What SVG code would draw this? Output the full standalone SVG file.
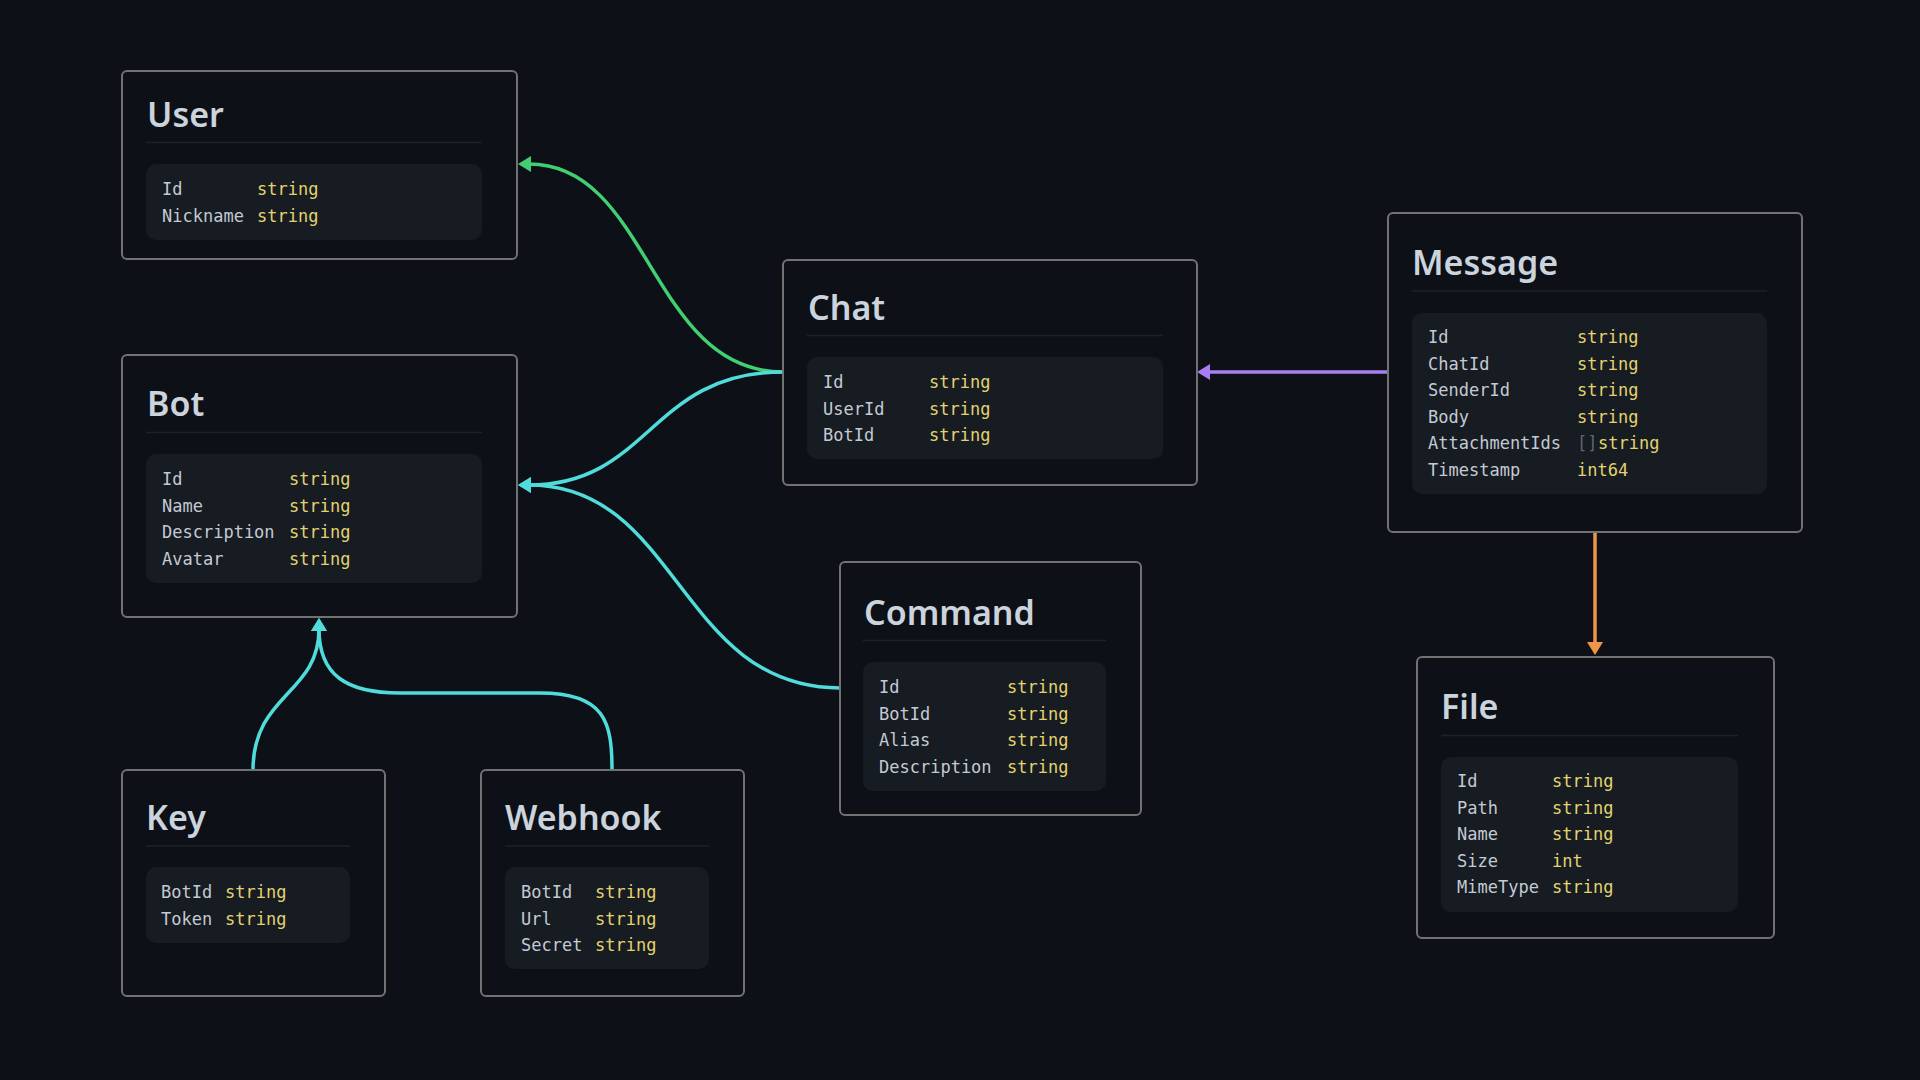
<svg xmlns="http://www.w3.org/2000/svg" width="1920" height="1080" viewBox="0 0 1920 1080">
<style>
.box{fill:#0d1017;stroke:#727272;stroke-width:2}
.fields{fill:#171b22}
.div{stroke:#1d2129;stroke-width:1.5}
.title{font-family:"Noto Sans","Liberation Sans",sans-serif;font-weight:600;font-size:34px;fill:#cbd3dc}
.n{font-family:"DejaVu Sans Mono","Liberation Mono",monospace;font-size:17px;fill:#c3cad3}
.t{font-family:"DejaVu Sans Mono","Liberation Mono",monospace;font-size:17px;fill:#e2d36f}
.br{font-family:"DejaVu Sans Mono","Liberation Mono",monospace;font-size:17px;fill:#5f6672}
.edge{fill:none;stroke-width:3.5}
</style>
<defs>
<marker id="ag" markerUnits="userSpaceOnUse" markerWidth="20" markerHeight="20" refX="2" refY="8" orient="auto" overflow="visible"><path d="M0,0 L13,8 L0,16 z" fill="#41cf72"/></marker>
<marker id="ac" markerUnits="userSpaceOnUse" markerWidth="20" markerHeight="20" refX="2" refY="8" orient="auto" overflow="visible"><path d="M0,0 L13,8 L0,16 z" fill="#4fdcda"/></marker>
<marker id="ap" markerUnits="userSpaceOnUse" markerWidth="20" markerHeight="20" refX="2" refY="8" orient="auto" overflow="visible"><path d="M0,0 L13,8 L0,16 z" fill="#a77ff3"/></marker>
<marker id="ao" markerUnits="userSpaceOnUse" markerWidth="20" markerHeight="20" refX="2" refY="8" orient="auto" overflow="visible"><path d="M0,0 L13,8 L0,16 z" fill="#ef9548"/></marker>
</defs>
<rect width="1920" height="1080" fill="#0d1017"/>
<g id="connectors">
<path class="edge" stroke="#41cf72" d="M783,372 C650,372 650,164 529,164" marker-end="url(#ag)"/>
<path class="edge" stroke="#4fdcda" d="M783,372 C650,372 650,485 529,485" marker-end="url(#ac)"/>
<path class="edge" stroke="#4fdcda" d="M840,688 C679,688 679,485 529,485" marker-end="url(#ac)"/>
<path class="edge" stroke="#4fdcda" d="M253,770 C253,694 319,694 319,629" marker-end="url(#ac)"/>
<path class="edge" stroke="#4fdcda" d="M612,770 C612,722 605,693 540,693 L400,693 C346,693 319,675 319,629" marker-end="url(#ac)"/>
<path class="edge" stroke="#a77ff3" d="M1388,372 L1208,372" marker-end="url(#ap)"/>
<path class="edge" stroke="#ef9548" d="M1595,533 L1595,644" marker-end="url(#ao)"/>
</g>
<g id="User">
<rect class="box" x="122" y="71" width="395" height="188" rx="5"/>
<text class="title" x="147" y="127">User</text>
<line class="div" x1="146" y1="142.5" x2="482" y2="142.5"/>
<rect class="fields" x="146" y="164" width="336" height="76" rx="10"/>
<text class="n" x="162" y="195">Id</text><text class="t" x="257" y="195">string</text>
<text class="n" x="162" y="222">Nickname</text><text class="t" x="257" y="222">string</text>
</g>
<g id="Bot">
<rect class="box" x="122" y="355" width="395" height="262" rx="5"/>
<text class="title" x="147" y="416">Bot</text>
<line class="div" x1="146" y1="432.5" x2="482" y2="432.5"/>
<rect class="fields" x="146" y="454" width="336" height="129" rx="10"/>
<text class="n" x="162" y="485">Id</text><text class="t" x="289" y="485">string</text>
<text class="n" x="162" y="511.6">Name</text><text class="t" x="289" y="511.6">string</text>
<text class="n" x="162" y="538.2">Description</text><text class="t" x="289" y="538.2">string</text>
<text class="n" x="162" y="564.8">Avatar</text><text class="t" x="289" y="564.8">string</text>
</g>
<g id="Chat">
<rect class="box" x="783" y="260" width="414" height="225" rx="5"/>
<text class="title" x="808" y="320">Chat</text>
<line class="div" x1="807" y1="335.5" x2="1163" y2="335.5"/>
<rect class="fields" x="807" y="357" width="356" height="102" rx="10"/>
<text class="n" x="823" y="388">Id</text><text class="t" x="929" y="388">string</text>
<text class="n" x="823" y="414.6">UserId</text><text class="t" x="929" y="414.6">string</text>
<text class="n" x="823" y="441.2">BotId</text><text class="t" x="929" y="441.2">string</text>
</g>
<g id="Message">
<rect class="box" x="1388" y="213" width="414" height="319" rx="5"/>
<text class="title" x="1412" y="275">Message</text>
<line class="div" x1="1412" y1="291" x2="1767" y2="291"/>
<rect class="fields" x="1412" y="313" width="355" height="181" rx="10"/>
<text class="n" x="1428" y="343">Id</text><text class="t" x="1577" y="343">string</text>
<text class="n" x="1428" y="369.6">ChatId</text><text class="t" x="1577" y="369.6">string</text>
<text class="n" x="1428" y="396.2">SenderId</text><text class="t" x="1577" y="396.2">string</text>
<text class="n" x="1428" y="422.8">Body</text><text class="t" x="1577" y="422.8">string</text>
<text class="n" x="1428" y="449.4">AttachmentIds</text><text class="br" x="1577" y="449.4">[]</text><text class="t" x="1598" y="449.4">string</text>
<text class="n" x="1428" y="476">Timestamp</text><text class="t" x="1577" y="476">int64</text>
</g>
<g id="Command">
<rect class="box" x="840" y="562" width="301" height="253" rx="5"/>
<text class="title" x="864" y="625">Command</text>
<line class="div" x1="863" y1="640.5" x2="1106" y2="640.5"/>
<rect class="fields" x="863" y="662" width="243" height="129" rx="10"/>
<text class="n" x="879" y="693">Id</text><text class="t" x="1007" y="693">string</text>
<text class="n" x="879" y="719.6">BotId</text><text class="t" x="1007" y="719.6">string</text>
<text class="n" x="879" y="746.2">Alias</text><text class="t" x="1007" y="746.2">string</text>
<text class="n" x="879" y="772.8">Description</text><text class="t" x="1007" y="772.8">string</text>
</g>
<g id="File">
<rect class="box" x="1417" y="657" width="357" height="281" rx="5"/>
<text class="title" x="1441" y="719">File</text>
<line class="div" x1="1441" y1="735.5" x2="1738" y2="735.5"/>
<rect class="fields" x="1441" y="757" width="297" height="155" rx="10"/>
<text class="n" x="1457" y="787">Id</text><text class="t" x="1552" y="787">string</text>
<text class="n" x="1457" y="813.6">Path</text><text class="t" x="1552" y="813.6">string</text>
<text class="n" x="1457" y="840.2">Name</text><text class="t" x="1552" y="840.2">string</text>
<text class="n" x="1457" y="866.8">Size</text><text class="t" x="1552" y="866.8">int</text>
<text class="n" x="1457" y="893.4">MimeType</text><text class="t" x="1552" y="893.4">string</text>
</g>
<g id="Key">
<rect class="box" x="122" y="770" width="263" height="226" rx="5"/>
<text class="title" x="146" y="830">Key</text>
<line class="div" x1="146" y1="846" x2="350" y2="846"/>
<rect class="fields" x="146" y="867" width="204" height="76" rx="10"/>
<text class="n" x="161" y="898">BotId</text><text class="t" x="225" y="898">string</text>
<text class="n" x="161" y="924.6">Token</text><text class="t" x="225" y="924.6">string</text>
</g>
<g id="Webhook">
<rect class="box" x="481" y="770" width="263" height="226" rx="5"/>
<text class="title" x="505" y="830">Webhook</text>
<line class="div" x1="505" y1="846" x2="709" y2="846"/>
<rect class="fields" x="505" y="867" width="204" height="102" rx="10"/>
<text class="n" x="521" y="898">BotId</text><text class="t" x="595" y="898">string</text>
<text class="n" x="521" y="924.6">Url</text><text class="t" x="595" y="924.6">string</text>
<text class="n" x="521" y="951.2">Secret</text><text class="t" x="595" y="951.2">string</text>
</g>
</svg>
